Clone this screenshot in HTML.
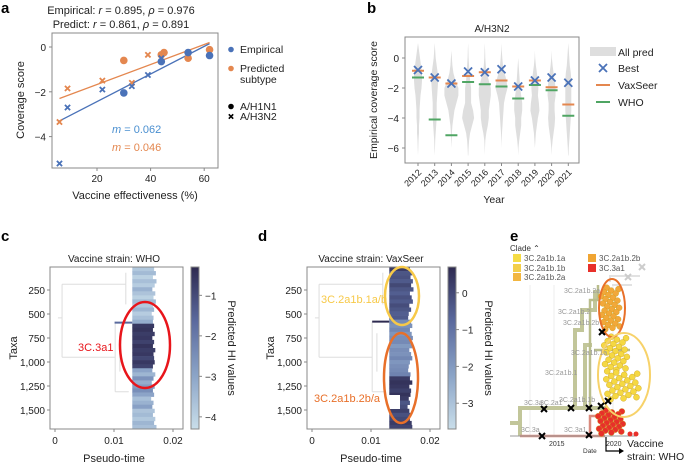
<!DOCTYPE html>
<html><head><meta charset="utf-8"><style>
body{margin:0;background:#fff;}
svg{display:block;font-family:"Liberation Sans",sans-serif;}
</style></head><body>
<svg id="fig" width="685" height="463" viewBox="0 0 685 463">
<g font-weight="bold" font-size="15" fill="#000">
<text x="1" y="13">a</text>
<text x="367" y="13">b</text>
<text x="1" y="241">c</text>
<text x="258" y="241">d</text>
<text x="510" y="241">e</text>
</g>
<g id="pa"></g>
<g id="pb"></g>
<g id="pc"></g>
<g id="pd"></g>
<g id="pe"></g>
</svg>
<script>
// ---------- Panel a data ----------
const aEmpCircX=[30,44,54,62], aEmpCircY=[-2.05,-0.65,-0.25,-0.38];
const aEmpCrossX=[6,9,22,33,39,44], aEmpCrossY=[-5.2,-2.7,-1.9,-1.75,-1.25,-0.5];
const aPrdCircX=[30,45,54,62,44], aPrdCircY=[-0.6,-0.25,-0.5,-0.12,-0.35];
const aPrdCrossX=[6,9,22,33,39,44], aPrdCrossY=[-3.35,-1.85,-1.5,-1.6,-0.35,-0.35];
const aEmpFit=[[6,-3.3],[62,0.15]], aPrdFit=[[6,-2.3],[62,0.2]];
const aXTicks=[20,40,60], aYTicks=[0,-2,-4];
// ---------- Panel b data ----------
const bYears=[2012,2013,2014,2015,2016,2017,2018,2019,2020,2021];
const bBest=[-0.8,-1.3,-1.7,-0.9,-0.95,-0.75,-1.9,-1.5,-1.3,-1.65];
const bVax=[-0.85,-1.3,-1.7,-1.2,-0.95,-1.5,-1.9,-1.5,-1.95,-3.1];
const bWHO=[-1.3,-4.1,-5.15,-1.6,-1.75,-1.9,-2.7,-1.8,-2.15,-3.85];
const bLevels=[1,0.5,0,-0.5,-1,-1.5,-2,-2.5,-3,-3.5,-4,-4.5,-5,-5.5,-6,-6.5];
const bViolin=[
[0,1,2,3,4,4,3.5,2.5,2,1.5,1.5,1,1,0.5,0.3,0],
[0,0.5,1,2,3,3.5,3,2.5,2,2,2,1.5,1,0.5,0.3,0],
[0,0,0.5,1,2,4,7,7,5,3,2,1,0.5,0.3,0,0],
[0,0.3,0.5,1,1.5,2,3,3,3,5,6,4,2,1,0.5,0.2],
[0,0.3,0.5,1,2,4,6,6,5,4,4,3,1.5,0.5,0.2,0],
[0,0.3,0.8,1.5,3,5,6,4,2.5,2,1.5,1,0.5,0.2,0,0],
[0,0,0,0.5,1,1.5,2,3,4,4,3,3,2,1,0.3,0],
[0,0,0.3,1,2,3,3.5,3,4,4.5,3,2,1,0.5,0,0],
[0,0,0.3,1,2,3,4,4,3,3,3.5,3,2,1,0.3,0],
[0,0.5,1,1.5,2.5,3,3,3,3,3,2.5,2,1.5,1,0.5,0.2]];
const bYTicks=[0,-2,-4,-6];
// ---------- Panel c/d data (one row per ~42 taxa) ----------
const cVals=[-3.8,-3.5,-4,-3.6,-3.9,-3.3,-3.7,-4,-3.5,-3.8,-3.4,-3.9,-3.6,-3.2,-0.6,-0.5,-0.7,-0.6,-0.8,-0.5,-0.7,-0.6,-0.9,-0.6,-0.8,-3,-3.4,-2.6,-3.2,-2.8,-2.5,-3,-3.6,-3.3,-2.9,-3.7,-3.5,-3.8,-3.4,-3.6];
const cEnds=[0.0168,0.0171,0.0166,0.0172,0.0169,0.0165,0.0170,0.0167,0.0171,0.0166,0.0168,0.0164,0.0167,0.0166,0.0168,0.0166,0.0169,0.0165,0.0168,0.0166,0.0170,0.0167,0.0168,0.0169,0.0166,0.0165,0.0170,0.0167,0.0164,0.0169,0.0166,0.0168,0.0163,0.0167,0.0165,0.0169,0.0166,0.0170,0.0168,0.0172];
const dVals=[0.3,-0.3,-0.2,-0.4,0,-0.3,-0.5,-0.2,-0.4,-0.1,-0.3,-0.5,-0.4,-1.6,-1.8,-1.5,-1.9,-1.7,-1.6,-2,-1.7,-1.8,-1.5,-1.9,-1.7,-1.6,-1.4,0.3,0.5,0.4,0.2,0.5,0.3,-0.3,-0.1,0.2,-0.2,0,0.3,0.1];
const dEnds=[0.0166,0.0170,0.0167,0.0171,0.0168,0.0172,0.0166,0.0169,0.0171,0.0165,0.0168,0.0164,0.0163,0.0168,0.0170,0.0166,0.0169,0.0171,0.0167,0.0170,0.0165,0.0168,0.0170,0.0166,0.0164,0.0163,0.0167,0.0166,0.0170,0.0165,0.0168,0.0167,0.0164,0.0166,0.0162,0.0165,0.0167,0.0166,0.0169,0.0170];
const taxaTicks=[250,500,750,1000,1250,1500], timeTicks=[0,0.01,0.02];
const cCbTicks=[-1,-2,-3,-4], dCbTicks=[0,-1,-2,-3];
// ---------- Panel e data ----------
const eCrossX=[544,571,589,601,608,602,542,589], eCrossY=[409,408,408,406,401,332,436,435];

const NS="http://www.w3.org/2000/svg";
function mk(parent,tag,attrs,txt){const e=document.createElementNS(NS,tag);for(const k in attrs)e.setAttribute(k,attrs[k]);if(txt!==undefined)e.textContent=txt;parent.appendChild(e);return e;}
function cross(g,x,y,s,col,w){
 const p=mk(g,'path',{d:`M${x-s},${y-s}L${x+s},${y+s}M${x-s},${y+s}L${x+s},${y-s}`,stroke:col,'stroke-width':w,fill:'none'});
 return p;}

// ===== Panel a =====
(function(){
const g=document.getElementById('pa');
const X=v=>97+(v-20)*2.68, Y=v=>47-v*22.4;
const t1=mk(g,'text',{x:121,y:14,'text-anchor':'middle','font-size':11,fill:'#222'});t1.innerHTML='Empirical: <tspan font-style="italic">r</tspan> = 0.895, <tspan font-style="italic">ρ</tspan> = 0.976';

const t2=mk(g,'text',{x:121,y:28,'text-anchor':'middle','font-size':11,fill:'#222'});t2.innerHTML='Predict: <tspan font-style="italic">r</tspan> = 0.861, <tspan font-style="italic">ρ</tspan> = 0.891';

const box=mk(g,'rect',{x:52,y:33,width:166,height:135,fill:'none',stroke:'#888','stroke-width':1});

aXTicks.forEach(v=>{mk(g,'line',{x1:X(v),x2:X(v),y1:168,y2:171,stroke:'#888'});const t=mk(g,'text',{x:X(v),y:182,'text-anchor':'middle','font-size':10,fill:'#222'},v);});
aYTicks.forEach(v=>{mk(g,'line',{x1:49,x2:52,y1:Y(v),y2:Y(v),stroke:'#888'});const t=mk(g,'text',{x:46,y:Y(v)+4,'text-anchor':'end','font-size':10,fill:'#222'},v===0?'0':'−'+(-v));});
const xl=mk(g,'text',{x:135,y:199,'text-anchor':'middle','font-size':11,fill:'#222'},'Vaccine effectiveness (%)');
const yl=mk(g,'text',{x:0,y:0,transform:'translate(24,100) rotate(-90)','text-anchor':'middle','font-size':11,fill:'#222'},'Coverage score');
const B='#4a72b8',O='#e4874f';
const f1=mk(g,'line',{x1:X(aEmpFit[0][0]),y1:Y(aEmpFit[0][1]),x2:X(aEmpFit[1][0]),y2:Y(aEmpFit[1][1]),stroke:B,'stroke-width':1.3});
const f2=mk(g,'line',{x1:X(aPrdFit[0][0]),y1:Y(aPrdFit[0][1]),x2:X(aPrdFit[1][0]),y2:Y(aPrdFit[1][1]),stroke:O,'stroke-width':1.3});
aPrdCircX.forEach((x,i)=>{const c=mk(g,'circle',{cx:X(x),cy:Y(aPrdCircY[i]),r:3.8,fill:O});});
aPrdCrossX.forEach((x,i)=>{const c=cross(g,X(x),Y(aPrdCrossY[i]),2.6,O,1.8);});
aEmpCircX.forEach((x,i)=>{const c=mk(g,'circle',{cx:X(x),cy:Y(aEmpCircY[i]),r:3.8,fill:B});});
aEmpCrossX.forEach((x,i)=>{const c=cross(g,X(x),Y(aEmpCrossY[i]),2.6,B,1.8);});
const m1=mk(g,'text',{x:112,y:133,'font-size':11,fill:'#4a8fd0'});m1.innerHTML='<tspan font-style="italic">m</tspan> = 0.062';
const m2=mk(g,'text',{x:112,y:151,'font-size':11,fill:O});m2.innerHTML='<tspan font-style="italic">m</tspan> = 0.046';
const L=[['Empirical',53,'c',B],['Predicted',72,'c',O],['subtype',83,null],['A/H1N1',110,'c','#000'],['A/H3N2',120,'x','#000']];
L.forEach(l=>{if(l[2]==='c')mk(g,'circle',{cx:231,cy:l[1]-3.5,r:2.8,fill:l[3]});if(l[2]==='x')cross(g,231,l[1]-3.5,2.2,'#000',1.6);
const t=mk(g,'text',{x:240,y:l[1],'font-size':10.5,fill:'#222'},l[0]);});
})();

// ===== Panel b =====
(function(){
const g=document.getElementById('pb');
const X=i=>418+i*16.7, Y=v=>58-v*15;
mk(g,'text',{x:492,y:32,'text-anchor':'middle','font-size':10,fill:'#222'},'A/H3N2');
bYears.forEach((yr,i)=>{let pts=[];bLevels.forEach((l,j)=>pts.push([X(i)+bViolin[i][j],Y(l)]));for(let j=bLevels.length-1;j>=0;j--)pts.push([X(i)-bViolin[i][j],Y(bLevels[j])]);
 const p=mk(g,'polygon',{points:pts.map(p=>p.join(',')).join(' '),fill:'#dedede','stroke-linejoin':'round'});});
bYears.forEach((yr,i)=>{
 const w=mk(g,'line',{x1:X(i)-6,x2:X(i)+6,y1:Y(bWHO[i]),y2:Y(bWHO[i]),stroke:'#4fa563','stroke-width':2});
 const v=mk(g,'line',{x1:X(i)-6,x2:X(i)+6,y1:Y(bVax[i]),y2:Y(bVax[i]),stroke:'#e4874f','stroke-width':2});
 const b=cross(g,X(i),Y(bBest[i]),4,'#4a72b8',1.8);
 const t=mk(g,'text',{x:0,y:0,transform:`translate(${X(i)+4},${173}) rotate(-45)`,'text-anchor':'end','font-size':9,fill:'#222'},yr);
 mk(g,'line',{x1:X(i),x2:X(i),y1:163,y2:166,stroke:'#888'});
});
const box=mk(g,'rect',{x:405,y:37,width:174,height:126,fill:'none',stroke:'#888'});
bYTicks.forEach(v=>{mk(g,'line',{x1:402,x2:405,y1:Y(v),y2:Y(v),stroke:'#888'});const t=mk(g,'text',{x:399,y:Y(v)+4,'text-anchor':'end','font-size':10,fill:'#222'},v===0?'0':'−'+(-v));});
const yl=mk(g,'text',{x:0,y:0,transform:'translate(377,100) rotate(-90)','text-anchor':'middle','font-size':10.5,fill:'#222'},'Empirical coverage score');
const xl=mk(g,'text',{x:494,y:203,'text-anchor':'middle','font-size':10.5,fill:'#222'},'Year');
mk(g,'rect',{x:590,y:47,width:26,height:9,fill:'#dedede'});
cross(g,603,68,4,'#4a72b8',1.8);
mk(g,'line',{x1:596,x2:610,y1:85,y2:85,stroke:'#e4874f','stroke-width':2});
mk(g,'line',{x1:596,x2:610,y1:102,y2:102,stroke:'#4fa563','stroke-width':2});
[['All pred',56],['Best',72],['VaxSeer',89],['WHO',106]].forEach(l=>{const t=mk(g,'text',{x:618,y:l[1],'font-size':10.5,fill:'#222'},l[0]);});
})();

// ===== Panels c & d =====
function cmap(t){
 const s=[[201,222,234],[138,163,199],[90,106,158],[46,42,80]];
 const f=Math.max(0,Math.min(1,t))*3,i=Math.min(2,Math.floor(f)),r=f-i;
 return 'rgb('+s[i].map((c,k)=>Math.round(c+(s[i+1][k]-c)*r)).join(',')+')';}
function tree(gid,x0,vals,ends,vmin,vmax,cbx,cbTicks,title){
 const g=document.getElementById(gid);
 const X=v=>x0+v*5900, Y=t=>290+(t-250)*0.096;
 mk(g,'text',{x:X(0.01),y:262,'text-anchor':'middle','font-size':10,fill:'#222'},title);
 const tl=`M${X(0.0005)},${Y(540)}H${X(0.0012)}M${X(0.0012)},${Y(190)}V${Y(950)}M${X(0.0012)},${Y(190)}H${X(0.0120)}M${X(0.0012)},${Y(950)}H${X(0.0102)}M${X(0.0102)},${Y(580)}V${Y(1310)}M${X(0.0102)},${Y(1310)}H${X(0.0125)}M${X(0.0120)},${Y(70)}V${Y(400)}M${X(0.0110)},${Y(700)}V${Y(1100)}`;
 mk(g,'path',{d:tl,stroke:'#ddd','stroke-width':1,fill:'none'});
 const rh=162/vals.length;
 vals.forEach((v,i)=>{const r=mk(g,'rect',{x:X(0.0131),y:267+i*rh,width:X(ends[i])-X(0.0131),height:rh+0.3,fill:cmap((v-vmin)/(vmax-vmin))});});
 const box=mk(g,'rect',{x:x0-5,y:267,width:133,height:162,fill:'none',stroke:'#888'});
 taxaTicks.forEach(t=>{mk(g,'line',{x1:x0-8,x2:x0-5,y1:Y(t),y2:Y(t),stroke:'#888'});const s=mk(g,'text',{x:x0-10,y:Y(t)+4,'text-anchor':'end','font-size':10,fill:'#222'},t.toLocaleString('en-US'));});
 timeTicks.forEach(t=>{mk(g,'line',{x1:X(t),x2:X(t),y1:429,y2:432,stroke:'#888'});const s=mk(g,'text',{x:X(t),y:444,'text-anchor':'middle','font-size':10,fill:'#222'},t);});
 const xl=mk(g,'text',{x:X(0.01),y:462,'text-anchor':'middle','font-size':11,fill:'#222'},'Pseudo-time');
 const yl=mk(g,'text',{x:0,y:0,transform:`translate(${x0-38},348) rotate(-90)`,'text-anchor':'middle','font-size':11,fill:'#222'},'Taxa');
 const gid2=gid+'grad';const df=mk(g,'defs',{});const lg=mk(df,'linearGradient',{id:gid2,x1:0,y1:1,x2:0,y2:0});
 [0,0.33,0.67,1].forEach(o=>mk(lg,'stop',{offset:o,'stop-color':cmap(o)}));
 const cb=mk(g,'rect',{x:cbx,y:267,width:8,height:162,fill:`url(#${gid2})`,stroke:'#888'});
 const cy=v=>429-(v-vmin)/(vmax-vmin)*162;
 cbTicks.forEach(v=>{mk(g,'line',{x1:cbx+8,x2:cbx+11,y1:cy(v),y2:cy(v),stroke:'#888'});const s=mk(g,'text',{x:cbx+14,y:cy(v)+4,'font-size':10,fill:'#222'},v===0?'0':'−'+(-v));});
 const ct=mk(g,'text',{x:0,y:0,transform:`translate(${cbx+37},348) rotate(90)`,'text-anchor':'middle','font-size':11,fill:'#222'},'Predicted HI values');
 return {g,X,Y};
}
(function(){
 const r=tree('pc',55,cVals,cEnds,-4.3,-0.3,191,cCbTicks,'Vaccine strain: WHO');
 const g=r.g;
 mk(g,'line',{x1:r.X(0.0101),x2:r.X(0.0131),y1:r.Y(590),y2:r.Y(590),stroke:'#5a6a9e','stroke-width':2});
 const e=mk(g,'ellipse',{cx:145,cy:345,rx:25,ry:43,fill:'none',stroke:'#e8151b','stroke-width':2.5});
 const t=mk(g,'text',{x:78,y:351,'font-size':11,fill:'#e8151b'},'3C.3a1');
})();
(function(){
 const r=tree('pd',312,dVals,dEnds,-3.7,0.7,448,dCbTicks,'Vaccine strain: VaxSeer');
 const g=r.g;
 mk(g,'line',{x1:r.X(0.0102),x2:r.X(0.0131),y1:r.Y(580),y2:r.Y(580),stroke:'#2e2a50','stroke-width':2});
 mk(g,'rect',{x:388,y:395,width:12,height:14,fill:'#fff'});
 const e1=mk(g,'ellipse',{cx:402,cy:296,rx:17,ry:29,fill:'none',stroke:'#f7c948','stroke-width':2.5});
 const e2=mk(g,'ellipse',{cx:401,cy:378,rx:17,ry:45,fill:'none',stroke:'#e8702a','stroke-width':2.5});
 const t1=mk(g,'text',{x:321,y:303,'font-size':11,fill:'#f7c948'},'3C.2a1b.1a/b');
 const t2=mk(g,'text',{x:314,y:402,'font-size':11,fill:'#e8702a'},'3C.2a1b.2b/a');
})();

// ===== Panel e =====
(function(){
const g=document.getElementById('pe');
const tc=mk(g,'text',{x:510,y:251,'font-size':8,fill:'#333'},'Clade ⌃');
[['3C.2a1b.1a',517,258,'#f5dc45'],['3C.2a1b.1b',517,268,'#f3cf4a'],['3C.2a1b.2a',517,277,'#f2b640'],['3C.2a1b.2b',592,258,'#f0a533'],['3C.3a1',592,268,'#e8302a']].forEach(l=>{
 mk(g,'rect',{x:l[1]-4,y:l[2]-4,width:8,height:8,fill:l[3]});const t=mk(g,'text',{x:l[1]+7,y:l[2]+3,'font-size':8,fill:'#555'},l[0]);});
[530,554,613].forEach(x=>mk(g,'line',{x1:x,x2:x,y1:285,y2:436,stroke:'#eee'}));
mk(g,'path',{d:'M510,423H520V408H606M520,423V436M575,408V330H582V310H595V290M585,408V345H592',stroke:'#c2c69a','stroke-width':4,fill:'none'});
mk(g,'path',{d:'M590,408V300H598V285M594,350H630',stroke:'#b9bd8c','stroke-width':2.5,fill:'none'});
mk(g,'path',{d:'M520,436H605M590,436V416H600',stroke:'#d98a7e','stroke-width':2.5,fill:'none'});
mk(g,'path',{d:'M610,282V276H640M612,285H632',stroke:'#e2e2e2','stroke-width':2,fill:'none'});
mk(g,'line',{x1:510,x2:635,y1:436,y2:436,stroke:'#999'});
const cl=(x1,x2,y1,y2,col,n)=>{for(let i=0;i<n;i++){const fx=(i*0.618034+0.3)%1,fy=(i+0.5)/n;const c=mk(g,'circle',{cx:x1+(x2-x1)*fx,cy:y1+(y2-y1)*fy,r:3,fill:col,stroke:'#c9a020','stroke-width':0.4});}};
cl(601,620,287,330,'#f2a83a',30);
cl(604,628,336,372,'#f5d842',25);
cl(606,640,372,400,'#f5d842',25);
cl(598,624,410,434,'#e8302a',25);
mk(g,'circle',{cx:630,cy:434,r:2.5,fill:'#e8302a'});mk(g,'circle',{cx:636,cy:434,r:2.5,fill:'#e8302a'});
const e1=mk(g,'ellipse',{cx:612,cy:308,rx:13,ry:29,fill:'none',stroke:'#e8702a','stroke-width':2});
const e2=mk(g,'ellipse',{cx:624,cy:375,rx:26,ry:42,fill:'none',stroke:'#f7d26a','stroke-width':2});
eCrossX.forEach((x,i)=>{const c=cross(g,x,eCrossY[i],3,'#000',2);});
cross(g,642,267,3,'#ccc',2);cross(g,628,277,3,'#ccc',2);
[['3C.2a1b.2a',564,293],['3C.2a1b.2',558,314],['3C.2a1b.2b',563,325],['3C.2a1b.1a',571,355],['3C.2a1b.1',545,375],['3C.3a',524,405],['3C.2a1',540,405],['3C.2a1b.1b',559,402],['3C.3a',521,432],['3C.3a1',564,432]].forEach(l=>{const t=mk(g,'text',{x:l[1],y:l[2],'font-size':7,fill:'#999'},l[0]);});
mk(g,'text',{x:549,y:446,'font-size':7,fill:'#333'},'2015');mk(g,'text',{x:606,y:446,'font-size':7,fill:'#333'},'2020');
mk(g,'text',{x:583,y:453,'font-size':6.5,fill:'#333'},'Date');
mk(g,'path',{d:'M606,437V451H619',stroke:'#000','stroke-width':1.2,fill:'none'});
mk(g,'path',{d:'M619,448L624,451L619,454Z',fill:'#000'});
const v1=mk(g,'text',{x:627,y:447,'font-size':10.5,fill:'#222'},'Vaccine');
const v2=mk(g,'text',{x:627,y:460,'font-size':10.5,fill:'#222'},'strain: WHO');
})();
</script>
</body></html>
